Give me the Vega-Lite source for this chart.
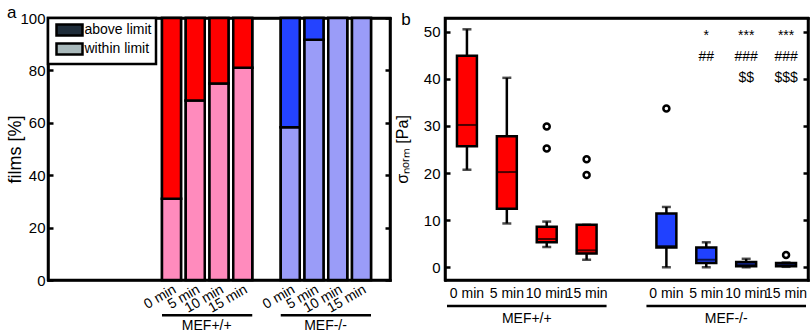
{
  "$schema": "https://vega.github.io/schema/vega-lite/v6.json",
  "padding": {"left": 5, "top": 2, "right": 0, "bottom": 0},
  "autosize": {"type": "pad"},
  "config": {
    "font": "Liberation Sans",
    "view": {"stroke": "black", "strokeWidth": 2.5},
    "title": {"fontSize": 17, "fontWeight": "normal", "anchor": "start", "frame": "bounds", "offset": -11, "font": "Liberation Sans", "color": "black"},
    "legend": {"strokeWidth": 2.5},
    "concat": {"spacing": 0},
    "text": {"font": "Liberation Sans", "color": "black"}
  },
  "datasets": {
    "bars": [
      {"slot": "0 min", "status": "within limit", "key": "MEF+/+ within", "pct": 31},
      {"slot": "0 min", "status": "above limit", "key": "MEF+/+ above", "pct": 69},
      {"slot": "5 min", "status": "within limit", "key": "MEF+/+ within", "pct": 68.5},
      {"slot": "5 min", "status": "above limit", "key": "MEF+/+ above", "pct": 31.5},
      {"slot": "10 min", "status": "within limit", "key": "MEF+/+ within", "pct": 75},
      {"slot": "10 min", "status": "above limit", "key": "MEF+/+ above", "pct": 25},
      {"slot": "15 min", "status": "within limit", "key": "MEF+/+ within", "pct": 81},
      {"slot": "15 min", "status": "above limit", "key": "MEF+/+ above", "pct": 19},
      {"slot": "0 min ", "status": "within limit", "key": "MEF-/- within", "pct": 58.3},
      {"slot": "0 min ", "status": "above limit", "key": "MEF-/- above", "pct": 41.7},
      {"slot": "5 min ", "status": "within limit", "key": "MEF-/- within", "pct": 91.7},
      {"slot": "5 min ", "status": "above limit", "key": "MEF-/- above", "pct": 8.3},
      {"slot": "10 min ", "status": "within limit", "key": "MEF-/- within", "pct": 100},
      {"slot": "15 min ", "status": "within limit", "key": "MEF-/- within", "pct": 100}
    ],
    "groups": [
      {"group": "MEF+/+", "a": "0 min", "b": "15 min", "m": "5 min"},
      {"group": "MEF-/-", "a": "0 min ", "b": "15 min ", "m": "5 min "}
    ],
    "boxes": [
      {"slot": "0 min", "grp": "MEF+/+", "lo": 20.7, "q1": 25.7, "med": 30.2, "q3": 44.9, "hi": 50.5},
      {"slot": "5 min", "grp": "MEF+/+", "lo": 9.3, "q1": 12.4, "med": 20.2, "q3": 27.8, "hi": 40.2},
      {"slot": "10 min", "grp": "MEF+/+", "lo": 4.3, "q1": 5.3, "med": 6.0, "q3": 8.6, "hi": 9.7},
      {"slot": "15 min", "grp": "MEF+/+", "lo": 1.6, "q1": 2.9, "med": 3.6, "q3": 9.0, "hi": 9.0},
      {"slot": "0 min ", "grp": "MEF-/-", "lo": 0.0, "q1": 4.2, "med": 4.5, "q3": 11.4, "hi": 12.8},
      {"slot": "5 min ", "grp": "MEF-/-", "lo": 0.0, "q1": 0.9, "med": 1.6, "q3": 4.2, "hi": 5.3},
      {"slot": "10 min ", "grp": "MEF-/-", "lo": 0.0, "q1": 0.2, "med": 0.6, "q3": 1.1, "hi": 1.8},
      {"slot": "15 min ", "grp": "MEF-/-", "lo": 0.1, "q1": 0.2, "med": 0.5, "q3": 0.9, "hi": 1.0}
    ],
    "outliers": [
      {"slot": "10 min", "val": 25.2},
      {"slot": "10 min", "val": 29.9},
      {"slot": "15 min", "val": 19.6},
      {"slot": "15 min", "val": 22.9},
      {"slot": "0 min ", "val": 33.7},
      {"slot": "15 min ", "val": 2.6}
    ],
    "sig": [
      {"slot": "5 min ", "sig": "*\n##"},
      {"slot": "10 min ", "sig": "***\n###\n$$"},
      {"slot": "15 min ", "sig": "***\n###\n$$$"}
    ]
  },
  "hconcat": [
    {
      "title": {"text": "a"},
      "width": 342,
      "height": 262,
      "layer": [
        {
          "data": {"name": "bars"},
          "mark": {"type": "bar", "stroke": "black", "strokeWidth": 2.5},
          "encoding": {
            "x": {"field": "slot", "type": "nominal", "sort": null,
              "scale": {"domain": [" ", "  ", "   ", "    ", "0 min", "5 min", "10 min", "15 min", "     ", "0 min ", "5 min ", "10 min ", "15 min "], "paddingInner": 0.2, "paddingOuter": 0.8},
              "axis": {"title": null, "ticks": false, "domain": true, "domainColor": "black", "domainWidth": 2.5, "domainCap": "square", "grid": false,
                "labelAngle": -30, "labelAlign": "right", "labelBaseline": "top", "labelPadding": 2,
                "labelFont": "Liberation Sans", "labelFontSize": 14, "labelColor": "black", "labelOverlap": false}},
            "y": {"field": "pct", "type": "quantitative", "stack": "zero", "scale": {"domain": [0, 100]},
              "axis": {"title": "films [%]", "values": [0, 20, 40, 60, 80, 100], "domain": true, "domainColor": "black", "domainWidth": 2.5, "domainCap": "square", "grid": false,
                "tickSize": -5, "tickWidth": 2.5, "tickColor": "black", "labelPadding": 8,
                "labelFont": "Liberation Sans", "labelFontSize": 15, "labelColor": "black",
                "titleFont": "Liberation Sans", "titleFontSize": 18, "titleFontWeight": "normal", "titleColor": "black", "titlePadding": -5}},
            "color": {"field": "status", "type": "nominal",
              "scale": {"domain": ["above limit", "within limit"], "range": ["#1f2d3a", "#a9b9bb"]},
              "legend": {"title": null, "orient": "top-left", "offset": 0, "fillColor": "white", "strokeColor": "black", "padding": 4,
                "symbolType": "M-2,-0.85H2V0.85H-2Z", "symbolSize": 169, "symbolOffset": 9.5, "symbolStrokeColor": "black", "symbolStrokeWidth": 2.5,
                "labelFontSize": 14, "labelFont": "Liberation Sans", "labelColor": "black", "labelOffset": 7, "rowPadding": -4}},
            "order": {"field": "status", "sort": "descending"}
          }
        },
        {
          "data": {"name": "bars"},
          "mark": {"type": "bar", "stroke": "black", "strokeWidth": 2.5},
          "encoding": {
            "x": {"field": "slot", "type": "nominal", "sort": null,
              "axis": {"orient": "top", "title": null, "labels": false, "ticks": false, "grid": false, "domain": true, "domainColor": "black", "domainWidth": 2.5, "domainCap": "square"}},
            "y": {"field": "pct", "type": "quantitative", "stack": "zero", "scale": {"domain": [0, 100]},
              "axis": {"orient": "right", "title": null, "labels": false, "grid": false, "values": [0, 20, 40, 60, 80, 100],
                "domain": true, "domainColor": "black", "domainWidth": 2.5, "domainCap": "square",
                "tickSize": -5, "tickWidth": 2.5, "tickColor": "black", "labelPadding": 0, "titlePadding": 0}},
            "fill": {"field": "key", "type": "nominal",
              "scale": {"domain": ["MEF+/+ within", "MEF+/+ above", "MEF-/- within", "MEF-/- above"], "range": ["#ff8bbd", "#ff0000", "#9a9cf8", "#2443ff"]},
              "legend": null},
            "order": {"field": "status", "sort": "descending"}
          }
        },
        {
          "data": {"name": "groups"},
          "mark": {"type": "rule", "stroke": "black", "strokeWidth": 2.5},
          "encoding": {
            "x": {"field": "a", "type": "nominal", "bandPosition": 0, "axis": null},
            "x2": {"field": "b", "bandPosition": 1},
            "y": {"datum": -13.5, "type": "quantitative", "scale": {"domain": [0, 100]}, "axis": null}
          }
        },
        {
          "data": {"name": "groups"},
          "mark": {"type": "text", "fontSize": 14, "baseline": "middle", "align": "center", "dx": 2},
          "encoding": {
            "x": {"field": "m", "type": "nominal", "bandPosition": 1, "axis": null},
            "y": {"datum": -17.6, "type": "quantitative", "scale": {"domain": [0, 100]}, "axis": null},
            "text": {"field": "group"}
          }
        }
      ],
      "resolve": {"scale": {"color": "independent", "fill": "independent"}, "axis": {"x": "independent", "y": "independent"}}
    },
    {
      "title": {"text": "b", "dx": 7},
      "width": 363,
      "height": 262,
      "layer": [
        {
          "data": {"name": "boxes"},
          "mark": {"type": "rule", "stroke": "black", "strokeWidth": 2.5},
          "encoding": {
            "x": {"field": "slot", "type": "nominal", "sort": null,
              "scale": {"domain": ["0 min", "5 min", "10 min", "15 min", " ", "0 min ", "5 min ", "10 min ", "15 min "], "paddingInner": 0, "paddingOuter": 0.05},
              "axis": {"title": null, "ticks": false, "domain": true, "domainColor": "black", "domainWidth": 2.5, "domainCap": "square", "grid": false,
                "labelAngle": 0, "labelPadding": 6, "labelOverlap": false,
                "labelFont": "Liberation Sans", "labelFontSize": 14, "labelColor": "black"}},
            "y": {"field": "lo", "type": "quantitative", "scale": {"domain": [-2.7, 52.9]},
              "axis": {"title": "σₙₒᵣₘ [Pa]", "values": [0, 10, 20, 30, 40, 50], "domain": true, "domainColor": "black", "domainWidth": 2.5, "domainCap": "square", "grid": false,
                "tickSize": -5, "tickWidth": 2.5, "tickColor": "black", "labelPadding": 10,
                "labelFont": "Liberation Sans", "labelFontSize": 15, "labelColor": "black",
                "titleFont": "Liberation Sans", "titleFontSize": 16, "titleFontWeight": "normal", "titleColor": "black", "titlePadding": 13}},
            "y2": {"field": "hi"}
          }
        },
        {
          "data": {"name": "boxes"},
          "mark": {"type": "tick", "color": "black", "thickness": 2.5, "size": 9},
          "encoding": {
            "x": {"field": "slot", "type": "nominal", "sort": null, "axis": null},
            "y": {"field": "lo", "type": "quantitative", "scale": {"domain": [-2.7, 52.9]}, "axis": null}
          }
        },
        {
          "data": {"name": "boxes"},
          "mark": {"type": "tick", "color": "black", "thickness": 2.5, "size": 9},
          "encoding": {
            "x": {"field": "slot", "type": "nominal", "sort": null, "axis": null},
            "y": {"field": "hi", "type": "quantitative", "scale": {"domain": [-2.7, 52.9]}, "axis": null}
          }
        },
        {
          "data": {"name": "boxes"},
          "mark": {"type": "bar", "stroke": "black", "strokeWidth": 2.5, "width": {"band": 0.5}},
          "encoding": {
            "x": {"field": "slot", "type": "nominal", "sort": null,
              "axis": {"orient": "top", "title": null, "labels": false, "ticks": false, "grid": false, "domain": true, "domainColor": "black", "domainWidth": 2.5, "domainCap": "square"}},
            "y": {"field": "q1", "type": "quantitative", "scale": {"domain": [-2.7, 52.9]}, "axis": null},
            "y2": {"field": "q3"},
            "fill": {"field": "grp", "type": "nominal", "scale": {"domain": ["MEF+/+", "MEF-/-"], "range": ["#ff0000", "#2041ff"]}, "legend": null}
          }
        },
        {
          "data": {"name": "boxes"},
          "mark": {"type": "tick", "color": "black", "thickness": 2, "size": 19},
          "encoding": {
            "x": {"field": "slot", "type": "nominal", "sort": null, "axis": null},
            "y": {"field": "med", "type": "quantitative", "scale": {"domain": [-2.7, 52.9]},
              "axis": {"orient": "right", "title": null, "labels": false, "grid": false, "values": [0, 10, 20, 30, 40, 50],
                "domain": true, "domainColor": "black", "domainWidth": 2.5, "domainCap": "square",
                "tickSize": -5, "tickWidth": 2.5, "tickColor": "black", "labelPadding": 0, "titlePadding": 0}}
          }
        },
        {
          "data": {"name": "outliers"},
          "mark": {"type": "point", "shape": "circle", "size": 36, "stroke": "black", "strokeWidth": 2.5, "fill": "white", "filled": true, "opacity": 1},
          "encoding": {
            "x": {"field": "slot", "type": "nominal", "sort": null, "axis": null},
            "y": {"field": "val", "type": "quantitative", "scale": {"domain": [-2.7, 52.9]}, "axis": null}
          }
        },
        {
          "data": {"name": "sig"},
          "mark": {"type": "text", "fontSize": 14, "lineBreak": "\n", "lineHeight": 21, "baseline": "alphabetic", "align": "center"},
          "encoding": {
            "x": {"field": "slot", "type": "nominal", "sort": null, "axis": null},
            "y": {"datum": 48.3, "type": "quantitative", "scale": {"domain": [-2.7, 52.9]}, "axis": null},
            "text": {"field": "sig"}
          }
        },
        {
          "data": {"name": "groups"},
          "mark": {"type": "rule", "stroke": "black", "strokeWidth": 2.5},
          "encoding": {
            "x": {"field": "a", "type": "nominal", "bandPosition": 0, "axis": null},
            "x2": {"field": "b", "bandPosition": 1},
            "y": {"datum": -8.2, "type": "quantitative", "scale": {"domain": [-2.7, 52.9]}, "axis": null}
          }
        },
        {
          "data": {"name": "groups"},
          "mark": {"type": "text", "fontSize": 14, "baseline": "middle", "align": "center"},
          "encoding": {
            "x": {"field": "m", "type": "nominal", "bandPosition": 1, "axis": null},
            "y": {"datum": -11, "type": "quantitative", "scale": {"domain": [-2.7, 52.9]}, "axis": null},
            "text": {"field": "group"}
          }
        }
      ],
      "resolve": {"axis": {"x": "independent", "y": "independent"}}
    }
  ]
}
